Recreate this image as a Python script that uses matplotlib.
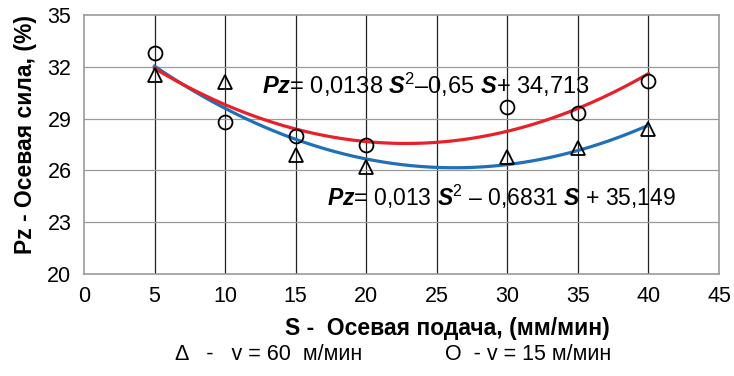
import numpy as np
import matplotlib
matplotlib.use('Agg')
import matplotlib.pyplot as plt

plt.rcParams['font.family'] = ['Liberation Sans', 'DejaVu Sans']
plt.rcParams['mathtext.fontset'] = 'custom'
plt.rcParams['mathtext.rm'] = 'Liberation Sans'
plt.rcParams['mathtext.it'] = 'Liberation Sans:italic'
plt.rcParams['mathtext.bf'] = 'Liberation Sans:bold'
plt.rcParams['mathtext.bfit'] = 'Liberation Sans:italic:bold'

# data
S = [5, 10, 15, 20, 30, 35, 40]
pz_v60 = [31.5, 31.1, 26.9, 26.2, 26.8, 27.3, 28.4]   # triangles
pz_v15 = [32.8, 28.8, 28.0, 27.5, 29.65, 29.3, 31.2]  # circles

# trend lines (2nd order, as in the original)
c60 = np.polyfit(S, pz_v60, 2)
c15 = np.polyfit(S, pz_v15, 2)
ss = np.linspace(5, 40, 200)

fig = plt.figure(figsize=(7.34, 3.76), dpi=100)
ax = fig.add_axes([0.1144, 0.2713, 0.8652, 0.6887])

ax.plot(ss, np.polyval(c60, ss), color='#1f70b8', lw=2.3, zorder=3)
ax.plot(ss, np.polyval(c15, ss), color='#e8202a', lw=2.3, zorder=3)
ax.plot(S, pz_v60, '^', ms=10, mfc='none', mec='black', mew=1.3, zorder=4)
ax.plot(S, pz_v15, 'o', ms=10, mfc='none', mec='black', mew=1.3, zorder=4)

ax.set_xlim(0, 45)
ax.set_ylim(20, 35)
ax.set_xticks(range(0, 46, 5))
ax.set_yticks([20, 23, 26, 29, 32, 35])
for x in range(5, 45, 5):
    ax.axvline(x, color='#222222', lw=0.9, zorder=1)
for y in [23, 26, 29, 32]:
    ax.axhline(y, color='#9a9a9a', lw=0.9, zorder=1)
for sp in ax.spines.values():
    sp.set_color('#9a9a9a')
    sp.set_linewidth(1.2)
ax.tick_params(length=0, labelsize=15.5, pad=9)

ax.set_xlabel('S -  Осевая подача, (мм/мин)', fontsize=16.5, fontweight='bold')
ax.xaxis.set_label_coords(0.573, -0.165)
ax.set_ylabel('Pz - Осевая сила, (%)', fontsize=16.5, fontweight='bold')
ax.yaxis.set_label_coords(-0.074, 0.54)

ax.text(12.6, 30.95, r'$\mathbfit{Pz}$= 0,0138 $\mathbfit{S}^{2}$–0,65 $\mathbfit{S}$+ 34,713',
        fontsize=17, va='center', ha='left', zorder=5)
ax.text(17.2, 24.45, r'$\mathbfit{Pz}$= 0,013 $\mathbfit{S}^{2}$ – 0,6831 $\mathbfit{S}$ + 35,149',
        fontsize=16.5, va='center', ha='left', zorder=5)

fig.text(175 / 734, 1 - 355 / 376, 'Δ   -   v = 60  м/мин', fontsize=15.5, ha='left', va='center')
fig.text(445 / 734, 1 - 355 / 376, 'O  - v = 15 м/мин', fontsize=15.5, ha='left', va='center')

fig.savefig('out.png', dpi=100)
